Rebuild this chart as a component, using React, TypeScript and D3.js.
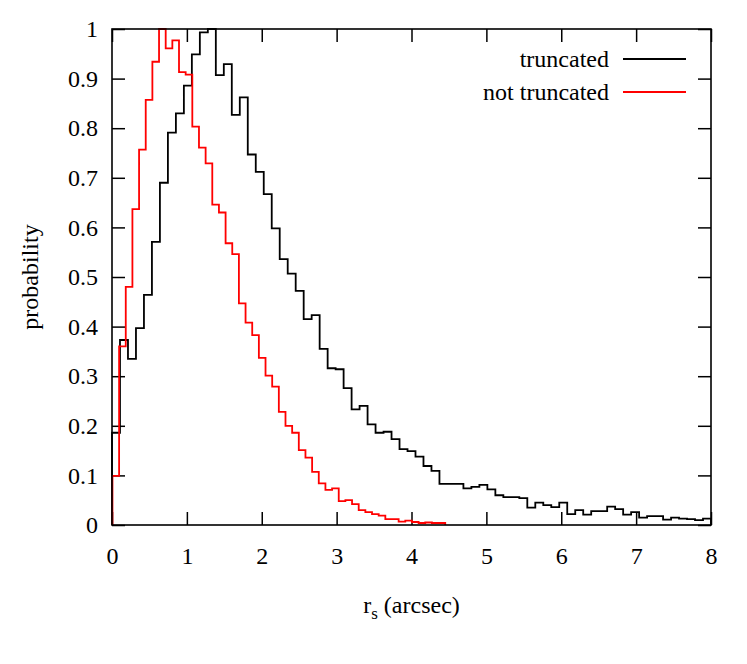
import React, { useRef, useEffect } from "react"
import * as d3 from "d3"

// histogram heights (normalised to peak = 1)
const truncated = [
  0.186, 0.373, 0.335, 0.397, 0.464, 0.571, 0.69, 0.791, 0.83, 0.886,
  0.949, 0.993, 1.0, 0.907, 0.929, 0.827, 0.862, 0.747, 0.712, 0.667,
  0.598, 0.536, 0.507, 0.472, 0.415, 0.423, 0.355, 0.316, 0.314, 0.276,
  0.233, 0.24, 0.203, 0.186, 0.188, 0.173, 0.153, 0.149, 0.138, 0.119,
  0.109, 0.083, 0.083, 0.083, 0.074, 0.077, 0.081, 0.072, 0.06, 0.056,
  0.056, 0.054, 0.035, 0.045, 0.04, 0.036, 0.045, 0.022, 0.03, 0.021,
  0.028, 0.028, 0.037, 0.032, 0.021, 0.026, 0.015, 0.018, 0.018, 0.011,
  0.015, 0.013, 0.012, 0.01, 0.013,
]
const notTruncated = [
  0.099, 0.36, 0.48, 0.637, 0.757, 0.857, 0.934, 1.0, 0.961, 0.977,
  0.913, 0.908, 0.803, 0.761, 0.729, 0.646, 0.63, 0.568, 0.546, 0.447,
  0.408, 0.383, 0.337, 0.301, 0.279, 0.228, 0.2, 0.186, 0.151, 0.136,
  0.107, 0.084, 0.071, 0.074, 0.048, 0.05, 0.042, 0.03, 0.026, 0.022,
  0.019, 0.012, 0.012, 0.007, 0.009, 0.006, 0.004, 0.005, 0.004, 0.004,
]
const truncatedStart = 0
const truncatedBin = 8 / 75
const notTruncatedStart = 0.006
const notTruncatedBin = 8 / 90

const xTicks = [0, 1, 2, 3, 4, 5, 6, 7, 8]
const yTicks = [0, 0.1, 0.2, 0.3, 0.4, 0.5, 0.6, 0.7, 0.8, 0.9, 1]
const yTickLabels = ["0", "0.1", "0.2", "0.3", "0.4", "0.5", "0.6", "0.7", "0.8", "0.9", "1"]

const series = [
  { name: "truncated", values: truncated, start: truncatedStart, bin: truncatedBin, color: "#000000" },
  { name: "not truncated", values: notTruncated, start: notTruncatedStart, bin: notTruncatedBin, color: "#ff0000" },
]

const FONT = "Liberation Serif, Times New Roman, Times, serif"
const FS = 24

const Chart = () => {
  let element = useRef(null)

  useEffect(() => {
    let width = 747, height = 664
    let margin = { top: 29, right: 36, bottom: 139, left: 112 }
    let w = width - margin.left - margin.right,
      h = height - margin.top - margin.bottom

    let svg = d3.select(element.current)
      .append("svg")
      .attr("width", width)
      .attr("height", height)
      .attr("font-family", FONT)
      .style("display", "block")

    let g = svg.append("g")
      .attr("transform", "translate(" + margin.left + "," + margin.top + ")")

    let x = d3.scaleLinear().domain([0, 8]).range([0, w])
    let y = d3.scaleLinear().domain([0, 1]).range([h, 0])

    let tick = 13

    g.append("g")
      .attr("transform", "translate(0," + h + ")")
      .call(d3.axisBottom(x).tickValues(xTicks).tickSize(-tick).tickPadding(22).tickFormat(d3.format("d")))
      .call(a => a.select(".domain").remove())

    g.append("g")
      .call(d3.axisTop(x).tickValues(xTicks).tickSize(-tick).tickFormat(() => ""))
      .call(a => a.select(".domain").remove())

    g.append("g")
      .call(d3.axisLeft(y).tickValues(yTicks).tickSize(-tick).tickPadding(14).tickFormat((d, i) => yTickLabels[i]))
      .call(a => a.select(".domain").remove())

    g.append("g")
      .attr("transform", "translate(" + w + ",0)")
      .call(d3.axisRight(y).tickValues(yTicks).tickSize(-tick).tickFormat(() => ""))
      .call(a => a.select(".domain").remove())

    g.selectAll("g").attr("font-family", FONT).attr("font-size", FS)
    g.selectAll(".tick line")
      .attr("stroke", "#000")
      .attr("stroke-width", 1.5)
    g.selectAll(".tick text")
      .attr("fill", "#000")
      .attr("font-family", FONT)
      .attr("font-size", FS)

    let line = d3.line()
      .x(d => x(d[0]))
      .y(d => y(d[1]))
      .curve(d3.curveStepAfter)

    series.forEach(s => {
      let pts = [[s.start, 0]]
      s.values.forEach((v, i) => pts.push([s.start + i * s.bin, v]))
      let end = s.start + s.values.length * s.bin
      pts.push([end, s.values[s.values.length - 1]])
      pts.push([end, 0])
      g.append("path")
        .attr("d", line(pts))
        .attr("fill", "none")
        .attr("stroke", s.color)
        .attr("stroke-width", 1.8)
        .attr("stroke-linejoin", "miter")
    })

    g.append("rect")
      .attr("width", w)
      .attr("height", h)
      .attr("fill", "none")
      .attr("stroke", "#000")
      .attr("stroke-width", 1.6)

    // legend
    let legend = g.append("g").attr("transform", "translate(" + (609 - margin.left) + "," + (59 - margin.top) + ")")
    series.forEach((s, i) => {
      let row = legend.append("g").attr("transform", "translate(0," + i * 33 + ")")
      row.append("text")
        .attr("text-anchor", "end")
        .attr("dy", "0.32em")
        .attr("font-family", FONT)
        .attr("font-size", FS)
        .text(s.name)
      row.append("line")
        .attr("x1", 14).attr("x2", 77)
        .attr("stroke", s.color)
        .attr("stroke-width", 1.8)
    })

    svg.append("text")
      .attr("transform", "translate(30," + (margin.top + h / 2) + ") rotate(-90)")
      .attr("text-anchor", "middle")
      .attr("dy", "0.32em")
      .attr("font-family", FONT)
      .attr("font-size", FS)
      .text("probability")

    let xt = svg.append("text")
      .attr("x", margin.left + w / 2)
      .attr("y", 613)
      .attr("text-anchor", "middle")
      .attr("font-family", FONT)
      .attr("font-size", FS)
    xt.append("tspan").text("r")
    xt.append("tspan").attr("dy", 6).attr("font-size", 17).text("s")
    xt.append("tspan").attr("dy", -6).text(" (arcsec)")

    return () => {
      if (element.current) {
        for (let child of Array.from(element.current.children)) {
          child.remove()
        }
      }
    }
  })

  return <div ref={element} style={{ position: "absolute", left: 0, top: 0 }}></div>
}

export default function App() {
  return <Chart />
}
